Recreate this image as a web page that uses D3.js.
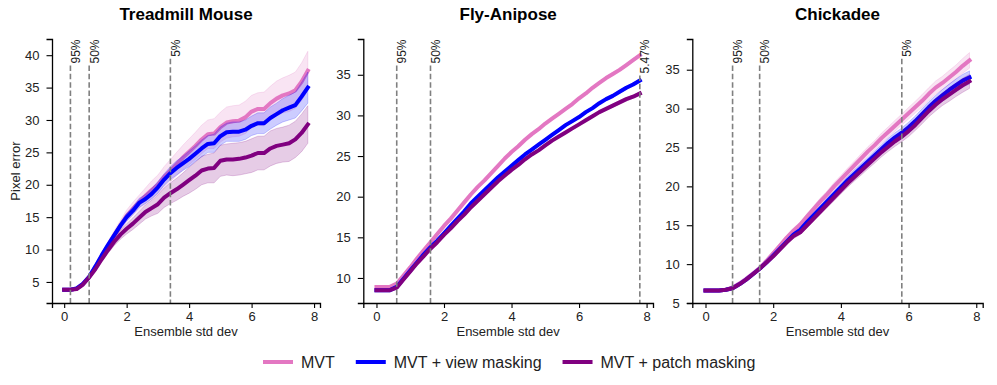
<!DOCTYPE html>
<html>
<head>
<meta charset="utf-8">
<script src="https://cdn.jsdelivr.net/npm/d3@7"></script>
<style>
  body { margin: 0; background: #fff; }
  svg { font-family: "Liberation Sans", Arial, sans-serif; }
  .tick text { font-size: 13px; fill: #222; }
</style>
</head>
<body>
<div id="chart"></div>
<script>
// x grid shared by every curve (ensemble std dev)
var stdDev = [0, 0.2, 0.4, 0.6, 0.8, 1, 1.2, 1.4, 1.6, 1.8, 2, 2.2, 2.4, 2.6, 2.8, 3, 3.2, 3.4, 3.6, 3.8,
  4, 4.2, 4.4, 4.6, 4.8, 5, 5.2, 5.4, 5.6, 5.8, 6, 6.2, 6.4, 6.6, 6.8, 7, 7.2, 7.4, 7.6, 7.8];

var seriesNames = ["MVT", "MVT + view masking", "MVT + patch masking"];
var seriesColors = ["#e377c2", "#0000ff", "#800080"];

// Treadmill Mouse
var mouseMvt = [3.8, 3.8, 4.0, 4.7, 5.8, 7.3, 9.0, 10.6, 12.2, 13.7, 15.2, 16.3, 17.3, 18.3, 19.2, 20.0, 21.2, 22.2, 23.2, 24.2,
  25.1, 26.0, 27.0, 27.8, 27.9, 28.9, 29.6, 29.8, 29.9, 30.4, 31.3, 31.7, 31.7, 32.6, 33.3, 33.8, 34.1, 34.6, 35.9, 37.6];
var mouseView = [3.8, 3.8, 4.0, 4.7, 5.8, 7.4, 9.1, 10.7, 12.2, 13.7, 15.0, 16.0, 17.2, 17.8, 18.6, 19.6, 20.8, 21.8, 22.6, 23.3,
  24.0, 24.8, 25.6, 26.3, 26.4, 27.5, 28.1, 28.2, 28.2, 28.5, 29.1, 29.5, 29.5, 30.3, 30.9, 31.5, 31.9, 32.3, 33.6, 35.0];
var mousePatch = [3.8, 3.8, 3.9, 4.6, 5.7, 7.0, 8.5, 9.9, 11.2, 12.3, 13.2, 14.0, 14.9, 15.8, 16.4, 17.0, 18.0, 18.7, 19.3, 20.0,
  20.7, 21.4, 22.2, 22.5, 22.6, 23.7, 23.9, 23.9, 24.0, 24.2, 24.5, 24.9, 24.9, 25.6, 26.0, 26.2, 26.4, 27.0, 28.0, 29.3];
var mouseMvtSd = [0.1, 0.1, 0.1, 0.2, 0.3, 0.4, 0.5, 0.6, 0.7, 0.8, 0.9, 1.0, 1.1, 1.2, 1.4, 1.5, 1.6, 1.7, 1.8, 1.9,
  2.0, 2.1, 2.2, 2.2, 2.3, 2.3, 2.4, 2.4, 2.4, 2.5, 2.5, 2.5, 2.6, 2.6, 2.7, 2.7, 2.8, 2.8, 2.9, 3.0];
var mouseViewSd = [0.1, 0.1, 0.1, 0.1, 0.2, 0.2, 0.3, 0.3, 0.4, 0.5, 0.6, 0.6, 0.7, 0.7, 0.8, 0.9, 0.9, 1.0, 1.1, 1.1,
  1.2, 1.2, 1.3, 1.3, 1.4, 1.4, 1.4, 1.5, 1.5, 1.5, 1.5, 1.6, 1.6, 1.7, 1.7, 1.8, 1.9, 2.0, 2.2, 2.4];
var mousePatchSd = [0.1, 0.1, 0.1, 0.2, 0.3, 0.4, 0.4, 0.5, 0.6, 0.7, 0.8, 0.9, 1.0, 1.1, 1.2, 1.4, 1.5, 1.6, 1.7, 1.8,
  2.0, 2.1, 2.2, 2.2, 2.3, 2.4, 2.4, 2.5, 2.5, 2.5, 2.6, 2.6, 2.6, 2.7, 2.7, 2.7, 2.8, 2.8, 2.9, 2.9];
var mouseCuts = [0.2, 0.8, 3.4];
var mouseCutLabels = ["95%", "50%", "5%"];
var mouseYTicks = [5, 10, 15, 20, 25, 30, 35, 40];

// Fly-Anipose
var flyMvt = [8.9, 8.9, 8.9, 9.3, 10.3, 11.3, 12.4, 13.4, 14.4, 15.4, 16.4, 17.3, 18.3, 19.3, 20.3, 21.2, 22.0, 22.9, 23.8, 24.7,
  25.5, 26.2, 27.0, 27.7, 28.3, 29.0, 29.6, 30.2, 30.8, 31.4, 32.1, 32.7, 33.4, 34.0, 34.6, 35.1, 35.6, 36.2, 36.8, 37.4];
var flyView = [8.5, 8.5, 8.5, 8.9, 9.9, 10.9, 11.9, 12.9, 13.8, 14.6, 15.5, 16.4, 17.3, 18.2, 19.2, 20.0, 20.8, 21.6, 22.4, 23.1,
  23.8, 24.5, 25.2, 25.8, 26.4, 27.0, 27.6, 28.2, 28.8, 29.3, 29.8, 30.4, 30.9, 31.5, 32.0, 32.4, 32.9, 33.4, 33.8, 34.3];
var flyPatch = [8.5, 8.5, 8.5, 8.8, 9.8, 10.8, 11.8, 12.7, 13.6, 14.4, 15.3, 16.1, 17.0, 17.8, 18.7, 19.5, 20.3, 21.1, 21.9, 22.6,
  23.3, 23.9, 24.6, 25.2, 25.7, 26.3, 26.9, 27.4, 27.9, 28.4, 28.9, 29.4, 29.9, 30.4, 30.8, 31.2, 31.6, 32.0, 32.3, 32.7];
var flyMvtSd = [0.05, 0.05, 0.05, 0.05, 0.05, 0.05, 0.05, 0.05, 0.05, 0.05, 0.1, 0.1, 0.1, 0.1, 0.1, 0.1, 0.1, 0.1, 0.1, 0.1,
  0.1, 0.1, 0.1, 0.1, 0.1, 0.15, 0.15, 0.15, 0.15, 0.15, 0.15, 0.15, 0.15, 0.15, 0.15, 0.2, 0.2, 0.2, 0.2, 0.2];
var flyViewSd = [0.05, 0.05, 0.05, 0.05, 0.05, 0.05, 0.05, 0.05, 0.05, 0.05, 0.1, 0.1, 0.1, 0.1, 0.1, 0.1, 0.1, 0.1, 0.1, 0.1,
  0.1, 0.1, 0.1, 0.1, 0.1, 0.15, 0.15, 0.15, 0.15, 0.15, 0.15, 0.15, 0.15, 0.15, 0.15, 0.2, 0.2, 0.2, 0.2, 0.2];
var flyPatchSd = [0.05, 0.05, 0.05, 0.05, 0.05, 0.05, 0.05, 0.05, 0.05, 0.05, 0.1, 0.1, 0.1, 0.1, 0.1, 0.1, 0.1, 0.1, 0.1, 0.1,
  0.1, 0.1, 0.1, 0.1, 0.1, 0.15, 0.15, 0.15, 0.15, 0.15, 0.15, 0.15, 0.15, 0.15, 0.15, 0.2, 0.2, 0.2, 0.2, 0.2];
var flyCuts = [0.6, 1.6, 7.8];
var flyCutLabels = ["95%", "50%", "5.47%"];
var flyYTicks = [10, 15, 20, 25, 30, 35];

// Chickadee
var chickMvt = [6.6, 6.6, 6.6, 6.7, 7.0, 7.5, 8.1, 8.8, 9.5, 10.4, 11.4, 12.4, 13.4, 14.3, 15.1, 16.1, 17.1, 18.1, 19.0, 20.0,
  20.9, 21.8, 22.7, 23.6, 24.5, 25.3, 26.2, 27.0, 27.8, 28.6, 29.4, 30.2, 31.0, 31.9, 32.7, 33.3, 34.0, 34.7, 35.5, 36.2];
var chickView = [6.6, 6.6, 6.6, 6.7, 6.9, 7.4, 8.0, 8.7, 9.4, 10.2, 11.1, 12.0, 12.9, 13.8, 14.4, 15.4, 16.3, 17.2, 18.1, 19.0,
  19.9, 20.8, 21.6, 22.4, 23.2, 24.0, 24.8, 25.6, 26.3, 26.9, 27.6, 28.4, 29.3, 30.2, 31.0, 31.7, 32.4, 33.0, 33.6, 34.0];
var chickPatch = [6.6, 6.6, 6.6, 6.7, 6.9, 7.4, 8.0, 8.7, 9.4, 10.2, 11.0, 11.9, 12.8, 13.6, 14.1, 15.0, 15.9, 16.8, 17.7, 18.6,
  19.5, 20.4, 21.2, 22.0, 22.8, 23.6, 24.4, 25.1, 25.8, 26.4, 27.1, 27.9, 28.8, 29.7, 30.5, 31.2, 31.8, 32.4, 33.0, 33.5];
var chickMvtSd = [0.05, 0.05, 0.05, 0.05, 0.1, 0.1, 0.1, 0.15, 0.2, 0.2, 0.25, 0.3, 0.3, 0.35, 0.35, 0.4, 0.4, 0.45, 0.45, 0.5,
  0.5, 0.55, 0.55, 0.6, 0.6, 0.6, 0.65, 0.65, 0.7, 0.7, 0.75, 0.75, 0.8, 0.8, 0.85, 0.85, 0.9, 0.9, 0.95, 1.0];
var chickViewSd = [0.05, 0.05, 0.05, 0.05, 0.1, 0.1, 0.1, 0.1, 0.15, 0.15, 0.2, 0.2, 0.25, 0.25, 0.3, 0.3, 0.35, 0.35, 0.4, 0.4,
  0.45, 0.45, 0.5, 0.5, 0.5, 0.55, 0.55, 0.6, 0.6, 0.6, 0.65, 0.65, 0.7, 0.7, 0.7, 0.75, 0.75, 0.8, 0.8, 0.85];
var chickPatchSd = [0.05, 0.05, 0.05, 0.05, 0.1, 0.1, 0.1, 0.15, 0.15, 0.2, 0.2, 0.25, 0.25, 0.3, 0.3, 0.35, 0.35, 0.4, 0.4, 0.45,
  0.45, 0.5, 0.5, 0.55, 0.55, 0.6, 0.6, 0.6, 0.65, 0.65, 0.7, 0.7, 0.75, 0.75, 0.8, 0.8, 0.85, 0.85, 0.9, 0.9];
var chickCuts = [0.8, 1.6, 5.8];
var chickCutLabels = ["95%", "50%", "5%"];
var chickYTicks = [5, 10, 15, 20, 25, 30, 35];

var xTicks = [0, 2, 4, 6, 8];

var svgWidth = 997;
var svgHeight = 385;
var plotTop = 39;
var plotBottom = 303;

var panels = [
  { title: "Treadmill Mouse", left: 52, right: 320, yDomain: [1.75, 42.5], yTicks: mouseYTicks,
    means: [mouseMvt, mouseView, mousePatch], sds: [mouseMvtSd, mouseViewSd, mousePatchSd],
    cuts: mouseCuts, cutLabels: mouseCutLabels },
  { title: "Fly-Anipose", left: 363.3, right: 653, yDomain: [6.92, 39.4], yTicks: flyYTicks,
    means: [flyMvt, flyView, flyPatch], sds: [flyMvtSd, flyViewSd, flyPatchSd],
    cuts: flyCuts, cutLabels: flyCutLabels },
  { title: "Chickadee", left: 692.3, right: 982.7, yDomain: [5.0, 38.95], yTicks: chickYTicks,
    means: [chickMvt, chickView, chickPatch], sds: [chickMvtSd, chickViewSd, chickPatchSd],
    cuts: chickCuts, cutLabels: chickCutLabels }
];

var svg = d3.select("#chart")
  .append("svg")
  .attr("width", svgWidth)
  .attr("height", svgHeight);

panels.forEach(function(p, pi) {
  var xScale = d3.scaleLinear()
    .domain([-0.39, 8.19])
    .range([p.left, p.right]);

  var yScale = d3.scaleLinear()
    .domain(p.yDomain)
    .range([plotBottom, plotTop]);

  var g = svg.append("g");

  // bands and mean lines, one series after the other
  p.means.forEach(function(mean, si) {
    var sd = p.sds[si];
    var area = d3.area()
      .x(function(d, i) { return xScale(stdDev[i]); })
      .y0(function(d, i) { return yScale(mean[i] - sd[i]); })
      .y1(function(d, i) { return yScale(mean[i] + sd[i]); });

    g.append("path")
      .datum(mean)
      .attr("d", area)
      .attr("fill", seriesColors[si])
      .attr("fill-opacity", 0.2)
      .attr("stroke", seriesColors[si])
      .attr("stroke-opacity", 0.2)
      .attr("stroke-width", 1);

    var line = d3.line()
      .x(function(d, i) { return xScale(stdDev[i]); })
      .y(function(d) { return yScale(d); });

    g.append("path")
      .datum(mean)
      .attr("d", line)
      .attr("fill", "none")
      .attr("stroke", seriesColors[si])
      .attr("stroke-width", 4)
      .attr("stroke-linejoin", "round")
      .attr("stroke-linecap", "square");
  });

  // percentile cut lines with rotated labels
  p.cuts.forEach(function(c, ci) {
    var cx = xScale(c);
    var label = g.append("text")
      .attr("transform", "translate(" + (cx + 9.5) + "," + (plotTop + 0.5) + ") rotate(-90)")
      .attr("text-anchor", "end")
      .style("font-size", "12px")
      .attr("fill", "#222")
      .text(p.cutLabels[ci]);
    var len = label.node().getComputedTextLength();

    g.append("line")
      .attr("x1", cx)
      .attr("x2", cx)
      .attr("y1", plotTop + len + 2.5)
      .attr("y2", plotBottom)
      .attr("stroke", "#808080")
      .attr("stroke-width", 1.6)
      .attr("stroke-dasharray", "5.5,2.8");
  });

  // axes
  var bottomAxis = d3.axisBottom(xScale)
    .tickValues(xTicks)
    .tickFormat(d3.format("d"))
    .tickSizeOuter(0)
    .tickSize(5)
    .tickPadding(4);
  var leftAxis = d3.axisLeft(yScale)
    .tickValues(p.yTicks)
    .tickFormat(d3.format("d"))
    .tickSizeOuter(0)
    .tickSize(5.5)
    .tickPadding(7);

  var xAxis = g.append("g")
    .attr("transform", "translate(0," + plotBottom + ")")
    .call(bottomAxis);
  var yAxis = g.append("g")
    .attr("transform", "translate(" + p.left + ",0)")
    .call(leftAxis);

  [xAxis, yAxis].forEach(function(ax) {
    ax.select(".domain").attr("stroke", "#000").attr("stroke-width", 1.3);
    ax.selectAll(".tick line").attr("stroke", "#000").attr("stroke-width", 1.1);
    ax.selectAll(".tick text").style("font-family", "'Liberation Sans', Arial, sans-serif");
  });

  // x label
  g.append("text")
    .attr("x", (p.left + p.right) / 2)
    .attr("y", 336)
    .attr("text-anchor", "middle")
    .style("font-size", "13px")
    .attr("fill", "#222")
    .text("Ensemble std dev");

  // title
  g.append("text")
    .attr("x", (p.left + p.right) / 2)
    .attr("y", 19.5)
    .attr("text-anchor", "middle")
    .style("font-size", "17px")
    .style("font-weight", "bold")
    .attr("fill", "#000")
    .text(p.title);

  if (pi === 0) {
    g.append("text")
      .attr("transform", "translate(19.5," + ((plotTop + plotBottom) / 2) + ") rotate(-90)")
      .attr("text-anchor", "middle")
      .style("font-size", "13px")
      .attr("fill", "#222")
      .text("Pixel error");
  }
});

// legend along the bottom
var legend = svg.append("g")
  .attr("transform", "translate(263, 362)");

var legendX = 0;
seriesNames.forEach(function(name, si) {
  legend.append("line")
    .attr("x1", legendX)
    .attr("x2", legendX + 30)
    .attr("y1", 0)
    .attr("y2", 0)
    .attr("stroke", seriesColors[si])
    .attr("stroke-width", 4);
  var t = legend.append("text")
    .attr("x", legendX + 38)
    .attr("y", 6)
    .style("font-size", "16px")
    .attr("fill", "#222")
    .text(name);
  legendX += 38 + t.node().getComputedTextLength() + 21;
});
</script>
</body>
</html>
